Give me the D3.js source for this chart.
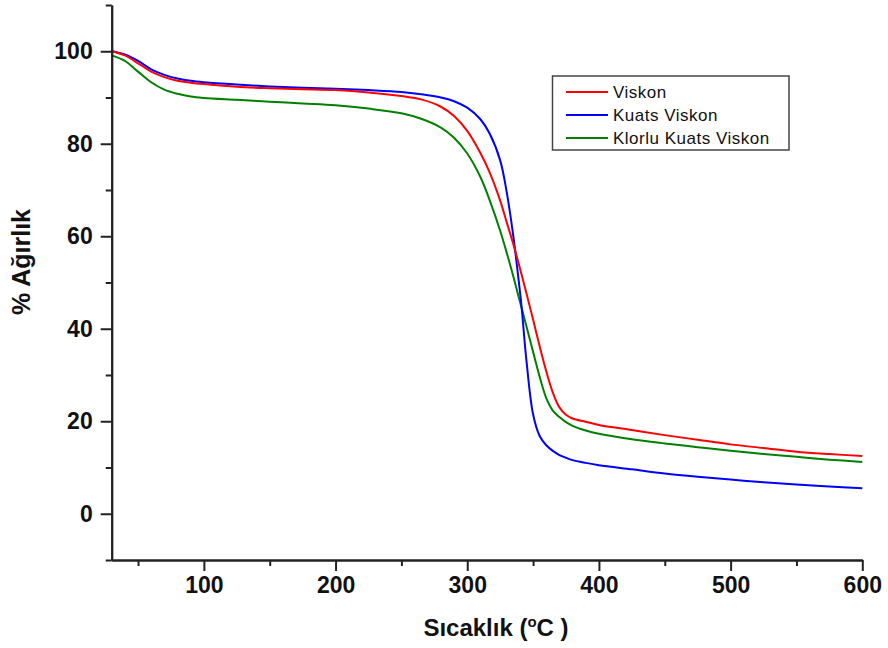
<!DOCTYPE html>
<html>
<head>
<meta charset="utf-8">
<script src="https://cdn.jsdelivr.net/npm/d3@7"></script>
<style>
  body { margin: 0; background: #fff; }
  svg { display: block; font-family: "Liberation Sans", Arial, sans-serif; }
</style>
</head>
<body>
<svg width="888" height="648"></svg>
<script>
// temperatures (ºC) shared by all three curves
var temps = [30, 40, 50, 60, 70, 80, 90, 100, 125, 150, 175, 200, 225, 250, 265, 280, 290, 300, 310, 317, 325, 330,
             335, 338, 341, 345, 350, 355, 360, 365, 370, 375, 380, 390, 400, 425, 450, 475, 500, 525, 550, 575, 600];

var viskon = [100, 99.1, 97.4, 95.6, 94.4, 93.6, 93.2, 92.9, 92.3, 92.0, 91.8, 91.6, 91.1, 90.3, 89.6, 88.0, 86.0, 82.8, 78.0, 73.8, 67.7, 63.0,
              58.3, 55.2, 52.0, 47.6, 42.0, 36.2, 30.8, 26.2, 23.0, 21.4, 20.6, 19.9, 19.2, 18.1, 17.0, 16.0, 15.0, 14.2, 13.4, 12.9, 12.5];

var kuatsViskon = [100, 99.3, 97.9, 96.1, 94.9, 94.1, 93.6, 93.3, 92.8, 92.4, 92.1, 91.9, 91.6, 91.2, 90.7, 90.0, 89.2, 87.8, 85.3, 82.2, 76.4, 69.5,
                   60.0, 53.0, 45.5, 33.0, 21.5, 16.8, 14.8, 13.6, 12.7, 12.1, 11.6, 11.0, 10.5, 9.6, 8.7, 8.0, 7.4, 6.8, 6.3, 5.9, 5.5];

var klorluKuatsViskon = [99.1, 97.9, 95.6, 93.3, 91.7, 90.8, 90.2, 89.9, 89.5, 89.1, 88.7, 88.3, 87.6, 86.6, 85.4, 83.5, 81.3, 77.9, 72.8, 67.8, 61.2, 56.4,
                         51.3, 48.0, 44.8, 40.5, 35.0, 29.6, 25.0, 22.3, 20.9, 19.8, 19.0, 18.0, 17.3, 16.1, 15.2, 14.4, 13.6, 12.9, 12.3, 11.7, 11.2];

var seriesNames = ["Viskon", "Kuats Viskon", "Klorlu Kuats Viskon"];
var seriesColors = ["#ff0000", "#0000ff", "#008000"];

var xMajor = [100, 200, 300, 400, 500, 600];
var xMinor = [50, 150, 250, 350, 450, 550];
var yMajor = [0, 20, 40, 60, 80, 100];
var yMinor = [-10, 10, 30, 50, 70, 90, 110];

var svg = d3.select("svg");

var x = d3.scaleLinear().domain([30, 600]).range([111.7, 862.3]);
var y = d3.scaleLinear().domain([-10, 110]).range([560, 5]);

var data = [viskon, kuatsViskon, klorluKuatsViskon].map(function(vals, i) {
  return { name: seriesNames[i], color: seriesColors[i],
           values: temps.map(function(t, j) { return { t: t, v: vals[j] }; }) };
});

var line = d3.line()
  .x(function(d) { return x(d.t); })
  .y(function(d) { return y(d.v); })
  .curve(d3.curveCatmullRom.alpha(0.5));

// curves (green first so red/blue sit on top like the original)
svg.selectAll(".serie")
  .data(data.slice().reverse())
  .enter().append("path")
  .attr("class", "serie")
  .attr("fill", "none")
  .attr("stroke", function(d) { return d.color; })
  .attr("stroke-width", 2)
  .attr("d", function(d) { return line(d.values); });

// axes
function styleAxis(g) {
  g.selectAll("path, line").attr("stroke", "#222").attr("stroke-width", 2);
  g.selectAll("text").attr("fill", "#111").attr("font-weight", "bold").attr("font-size", 23);
}

svg.append("g")
  .attr("transform", "translate(0,560)")
  .call(d3.axisBottom(x).tickValues(xMinor).tickSize(6).tickSizeOuter(0).tickFormat(""))
  .call(styleAxis);
svg.append("g")
  .attr("transform", "translate(0,560)")
  .call(d3.axisBottom(x).tickValues(xMajor).tickSize(11).tickSizeOuter(0).tickPadding(6))
  .call(styleAxis);

svg.append("g")
  .attr("transform", "translate(111.7,0)")
  .call(d3.axisLeft(y).tickValues(yMinor).tickSize(6).tickSizeOuter(0).tickFormat(""))
  .call(styleAxis);
svg.append("g")
  .attr("transform", "translate(111.7,0)")
  .call(d3.axisLeft(y).tickValues(yMajor).tickSize(11).tickSizeOuter(0).tickPadding(8))
  .call(styleAxis);

// axis titles
var xt = svg.append("text")
  .attr("x", 496).attr("y", 636)
  .attr("text-anchor", "middle")
  .attr("font-size", 24).attr("font-weight", "bold").attr("fill", "#111");
xt.append("tspan").text("Sıcaklık (");
xt.append("tspan").attr("font-size", 15).attr("dy", -9).text("o");
xt.append("tspan").attr("dy", 9).text("C )");

svg.append("text")
  .attr("transform", "translate(30,262) rotate(-90)")
  .attr("text-anchor", "middle")
  .attr("font-size", 25).attr("font-weight", "bold").attr("fill", "#111")
  .text("% Ağırlık");

// legend
var legend = svg.append("g");
legend.append("rect")
  .attr("x", 552.5).attr("y", 76).attr("width", 236.5).attr("height", 74)
  .attr("fill", "#fff").attr("stroke", "#444").attr("stroke-width", 1.5);

var items = legend.selectAll(".item")
  .data(data)
  .enter().append("g")
  .attr("transform", function(d, i) { return "translate(0," + (92 + i * 23) + ")"; });
items.append("line")
  .attr("x1", 566).attr("x2", 608)
  .attr("stroke", function(d) { return d.color; })
  .attr("stroke-width", 2);
items.append("text")
  .attr("x", 613).attr("dy", "0.35em")
  .attr("font-size", 17).attr("letter-spacing", 0.5).attr("fill", "#111")
  .text(function(d) { return d.name; });
</script>
</body>
</html>
